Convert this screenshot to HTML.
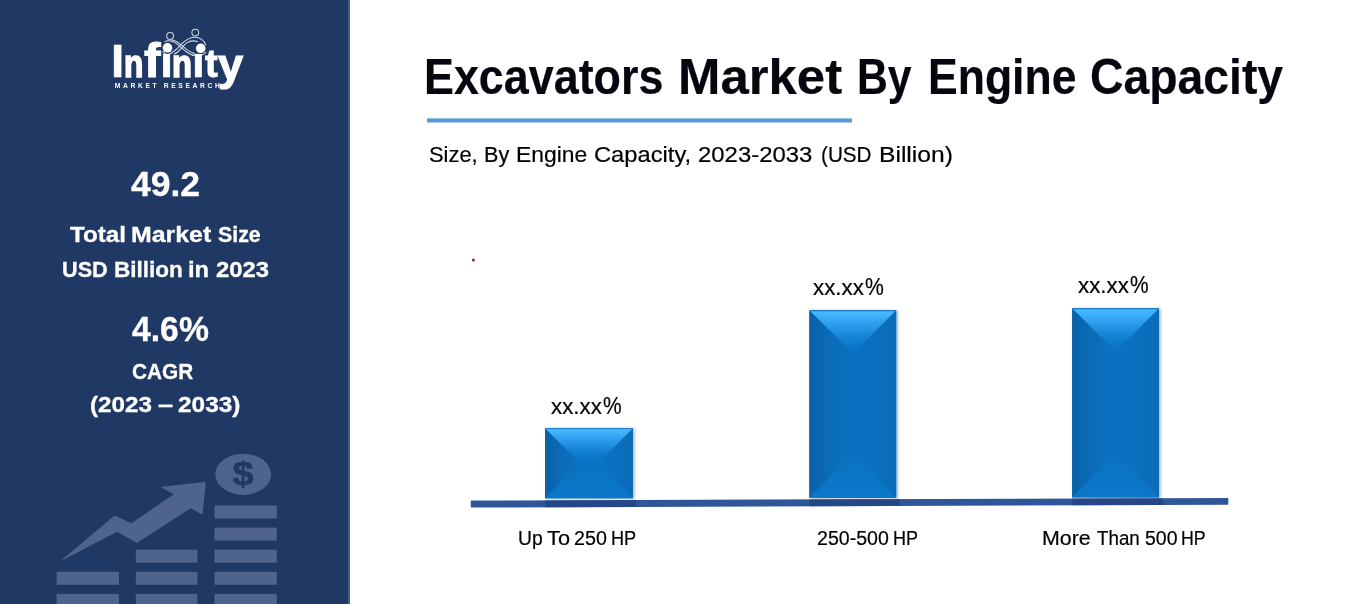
<!DOCTYPE html>
<html lang="en"><head><meta charset="utf-8"><title>Excavators Market By Engine Capacity</title>
<style>
html,body{margin:0;padding:0}
body{width:1362px;height:604px;position:relative;overflow:hidden;background:#fff;font-family:'Liberation Sans', sans-serif}
#side{position:absolute;left:0;top:0;width:348px;height:604px;background:#1f3864}
#edge{position:absolute;left:348px;top:0;width:2px;height:604px;background:#4a6080}
svg{position:absolute;left:0;top:0;overflow:visible}
.g{margin:0;padding:0;position:static;font-weight:normal;font-size:0}
.b .w{font-weight:bold}
.wh .w{color:#fff;-webkit-text-stroke:.3px #fff}
h1 .w{color:#06060e}
.logo{font-size:0;margin:0}
.logo span{position:absolute;font:bold 46.4px/1 'Liberation Sans', sans-serif;color:#fff;white-space:pre;transform-origin:0 0;display:block}
.w{position:absolute;line-height:1;white-space:pre;transform-origin:0 0;color:#000;display:block;-webkit-text-stroke:.2px currentColor}
</style></head><body>
<aside id="side">
<svg width="348" height="604" viewBox="0 0 348 604">
 <g fill="#fff" font-family="'Liberation Sans', sans-serif" font-weight="bold">
  <text x="114.7" y="87.9" font-size="6.7" textLength="105.2" lengthAdjust="spacing">MARKET RESEARCH</text>
  <circle cx="167.5" cy="47.8" r="4.8"/><circle cx="200.7" cy="48.3" r="4.8"/>
 </g>
 <g fill="none" stroke="#fff" stroke-width="1.05" stroke-linecap="round" opacity=".8">
  <path d="M205.7 44.9C204.5 40.5 199.5 37 194.7 37.3C189 37.6 184.5 41 181.5 44.2C177.5 48.8 174 52.7 168.2 54.5C166 55 164 53.5 162.9 51.5"/>
  <path d="M197.4 41.6C193 40.2 189.5 41 186.8 42.9C183.5 45.5 181 49 178.2 51.5C176.5 53 175 53.8 174.2 54.1"/>
  <path d="M164.9 41.6C167 40.2 171.5 40.3 175.5 42.9C179.5 45.5 183 49.5 186.8 52.2C190.5 54.8 194 55.9 197.4 55.8C201 55.7 204.3 54.2 206 52.2"/>
  <path d="M171.6 39.9C175 40.2 179.5 43 183.5 46.9C187 50 191 52.8 194.7 53.5"/>
  <circle cx="170.1" cy="35.9" r="3.4"/><circle cx="195.3" cy="32.6" r="3.4"/>
 </g>
 <g fill="#4e648c">
  <rect x="56.6" y="571.8" width="62.3" height="13"/><rect x="56.6" y="593.9" width="62.3" height="13"/><rect x="135.8" y="549.7" width="61.6" height="13"/><rect x="135.8" y="571.8" width="61.6" height="13"/><rect x="135.8" y="593.9" width="61.6" height="13"/><rect x="214.5" y="505.5" width="62.3" height="13"/><rect x="214.5" y="527.6" width="62.3" height="13"/><rect x="214.5" y="549.7" width="62.3" height="13"/><rect x="214.5" y="571.8" width="62.3" height="13"/><rect x="214.5" y="593.9" width="62.3" height="13"/>
  <ellipse cx="243.2" cy="474.3" rx="27.9" ry="20.6"/>
  <polygon points="60,561.6 114.5,515.5 131.6,523.2 173.7,494.2 160.5,487.1 205.8,481.8 202.6,514.7 190.8,508.2 136.8,542.9 117.1,531.8"/>
 </g>
 <g transform="translate(242.95 485.1) scale(1.15 1)"><text x="0" y="0" text-anchor="middle" font-family="'Liberation Sans', sans-serif" font-weight="bold" font-size="32.9" fill="#1f3864" stroke="#1f3864" stroke-width="0.6">$</text></g>
</svg>
<div class="logo"><span style="left:111.39px;top:39.15px;transform:scale(1.0261,0.9785);-webkit-text-stroke:0.6px #fff">I</span><span style="left:123.93px;top:44.64px;transform:scale(0.6815,0.8241);-webkit-text-stroke:2.0px #fff">n</span><span style="left:143.81px;top:36.71px;transform:scale(1.0747,1.0365);-webkit-text-stroke:0.9px #fff">f</span><span style="left:160.20px;top:42.18px;transform:scale(1.0172,0.9013);-webkit-text-stroke:0.6px #fff;clip-path:inset(13px -5px -5px -5px)">i</span><span style="left:171.88px;top:44.64px;transform:scale(0.7060,0.8241);-webkit-text-stroke:2.0px #fff">n</span><span style="left:192.39px;top:42.18px;transform:scale(0.9885,0.9013);-webkit-text-stroke:0.6px #fff;clip-path:inset(13px -5px -5px -5px)">i</span><span style="left:205.42px;top:43.81px;transform:scale(0.8210,0.8485);-webkit-text-stroke:1.2px #fff">t</span><span style="left:217.55px;top:42.91px;transform:scale(0.9745,0.9404);-webkit-text-stroke:1.2px #fff">y</span></div>
<div class="g b wh"><span class="w" style="left:130.52px;top:166.90px;font-size:34.6px;transform:scaleX(1.0269)">49.2</span></div>
<p class="g b wh"><span class="w" style="left:69.96px;top:223.70px;font-size:22.5px;transform:scaleX(1.0758)">Total</span> <span class="w" style="left:131.32px;top:223.70px;font-size:22.5px;transform:scaleX(1.1060)">Market</span> <span class="w" style="left:218.36px;top:223.70px;font-size:22.5px;transform:scaleX(0.9497)">Size</span> <span class="w" style="left:61.80px;top:258.70px;font-size:22.5px;transform:scaleX(0.9619)">USD</span> <span class="w" style="left:113.68px;top:258.70px;font-size:22.5px;transform:scaleX(1.0005)">Billion</span> <span class="w" style="left:188.14px;top:258.70px;font-size:22.5px;transform:scaleX(1.0561)">in</span> <span class="w" style="left:215.67px;top:258.70px;font-size:22.5px;transform:scaleX(1.0592)">2023</span></p>
<div class="g b wh"><span class="w" style="left:132.29px;top:311.90px;font-size:34.6px;transform:scaleX(0.9752)">4.6%</span></div>
<p class="g b wh"><span class="w" style="left:132.07px;top:360.80px;font-size:22.5px;transform:scaleX(0.9236)">CAGR</span> <span class="w" style="left:90.29px;top:393.60px;font-size:22.5px;transform:scaleX(1.0767)">(2023</span> <span class="w" style="left:157.58px;top:393.60px;font-size:22.5px;transform:scaleX(1.2121)">–</span> <span class="w" style="left:177.55px;top:393.60px;font-size:22.5px;transform:scaleX(1.0839)">2033)</span></p>
</aside>
<div id="edge"></div>
<main>
<svg width="1362" height="604" viewBox="0 0 1362 604">
 <defs><filter id="sh" x="-20%" y="-20%" width="150%" height="140%"><feDropShadow dx="1.5" dy="0.5" stdDeviation="1.8" flood-color="#000" flood-opacity=".32"/></filter></defs>
 <rect x="427" y="118.4" width="425" height="4.1" fill="#5b9bd5"/>
 <circle cx="473.4" cy="259.9" r="1.5" fill="#a3152c"/>
 <g filter="url(#sh)"><rect x="545.1" y="428.2" width="87.79999999999995" height="70.10000000000002" fill="#0a72c2"/></g>
<g>
<linearGradient id="gt1" gradientUnits="userSpaceOnUse" x1="0" y1="428.2" x2="0" y2="463.25"><stop offset="0" stop-color="#0c6cb6"/><stop offset=".04" stop-color="#46bbff"/><stop offset=".3" stop-color="#2f9fee"/><stop offset=".6" stop-color="#1685d6"/><stop offset=".85" stop-color="#0b76c7"/><stop offset="1" stop-color="#0a72c2"/></linearGradient>
<linearGradient id="gb1" gradientUnits="userSpaceOnUse" x1="0" y1="498.3" x2="0" y2="463.25"><stop offset="0" stop-color="#0c78c9"/><stop offset="1" stop-color="#0a72c2"/></linearGradient>
<linearGradient id="gl1" gradientUnits="userSpaceOnUse" x1="545.1" y1="0" x2="580.1500000000001" y2="0"><stop offset="0" stop-color="#0a61a6"/><stop offset=".5" stop-color="#0a6dba"/><stop offset="1" stop-color="#0a72c2"/></linearGradient>
<linearGradient id="gr1" gradientUnits="userSpaceOnUse" x1="632.9" y1="0" x2="597.8499999999999" y2="0"><stop offset="0" stop-color="#0a6cb8"/><stop offset=".5" stop-color="#0a70bf"/><stop offset="1" stop-color="#0a72c2"/></linearGradient>
<polygon points="545.1,428.2 580.1500000000001,463.25 580.1500000000001,463.25 545.1,498.3" fill="url(#gl1)"/><polygon points="632.9,428.2 597.8499999999999,463.25 597.8499999999999,463.25 632.9,498.3" fill="url(#gr1)"/><polygon points="545.1,498.3 632.9,498.3 597.8499999999999,463.25 580.1500000000001,463.25" fill="url(#gb1)"/><polygon points="545.1,428.2 632.9,428.2 597.8499999999999,463.25 580.1500000000001,463.25" fill="url(#gt1)"/>
</g>
 <g filter="url(#sh)"><rect x="809.4" y="310.2" width="86.80000000000007" height="187.8" fill="#0a72c2"/></g>
<g>
<linearGradient id="gt2" gradientUnits="userSpaceOnUse" x1="0" y1="310.2" x2="0" y2="353.6"><stop offset="0" stop-color="#0c6cb6"/><stop offset=".04" stop-color="#46bbff"/><stop offset=".3" stop-color="#2f9fee"/><stop offset=".6" stop-color="#1685d6"/><stop offset=".85" stop-color="#0b76c7"/><stop offset="1" stop-color="#0a72c2"/></linearGradient>
<linearGradient id="gb2" gradientUnits="userSpaceOnUse" x1="0" y1="498.0" x2="0" y2="454.59999999999997"><stop offset="0" stop-color="#0c78c9"/><stop offset="1" stop-color="#0a72c2"/></linearGradient>
<linearGradient id="gl2" gradientUnits="userSpaceOnUse" x1="809.4" y1="0" x2="852.8" y2="0"><stop offset="0" stop-color="#0a61a6"/><stop offset=".5" stop-color="#0a6dba"/><stop offset="1" stop-color="#0a72c2"/></linearGradient>
<linearGradient id="gr2" gradientUnits="userSpaceOnUse" x1="896.2" y1="0" x2="852.8" y2="0"><stop offset="0" stop-color="#0a6cb8"/><stop offset=".5" stop-color="#0a70bf"/><stop offset="1" stop-color="#0a72c2"/></linearGradient>
<polygon points="809.4,310.2 852.8,353.6 852.8,454.59999999999997 809.4,498.0" fill="url(#gl2)"/><polygon points="896.2,310.2 852.8,353.6 852.8,454.59999999999997 896.2,498.0" fill="url(#gr2)"/><polygon points="809.4,498.0 896.2,498.0 852.8,454.59999999999997 852.8,454.59999999999997" fill="url(#gb2)"/><polygon points="809.4,310.2 896.2,310.2 852.8,353.6 852.8,353.6" fill="url(#gt2)"/>
</g>
 <g filter="url(#sh)"><rect x="1072.2" y="308.2" width="86.79999999999995" height="189.2" fill="#0a72c2"/></g>
<g>
<linearGradient id="gt3" gradientUnits="userSpaceOnUse" x1="0" y1="308.2" x2="0" y2="351.59999999999997"><stop offset="0" stop-color="#0c6cb6"/><stop offset=".04" stop-color="#46bbff"/><stop offset=".3" stop-color="#2f9fee"/><stop offset=".6" stop-color="#1685d6"/><stop offset=".85" stop-color="#0b76c7"/><stop offset="1" stop-color="#0a72c2"/></linearGradient>
<linearGradient id="gb3" gradientUnits="userSpaceOnUse" x1="0" y1="497.4" x2="0" y2="454.0"><stop offset="0" stop-color="#0c78c9"/><stop offset="1" stop-color="#0a72c2"/></linearGradient>
<linearGradient id="gl3" gradientUnits="userSpaceOnUse" x1="1072.2" y1="0" x2="1115.6" y2="0"><stop offset="0" stop-color="#0a61a6"/><stop offset=".5" stop-color="#0a6dba"/><stop offset="1" stop-color="#0a72c2"/></linearGradient>
<linearGradient id="gr3" gradientUnits="userSpaceOnUse" x1="1159.0" y1="0" x2="1115.6" y2="0"><stop offset="0" stop-color="#0a6cb8"/><stop offset=".5" stop-color="#0a70bf"/><stop offset="1" stop-color="#0a72c2"/></linearGradient>
<polygon points="1072.2,308.2 1115.6,351.59999999999997 1115.6,454.0 1072.2,497.4" fill="url(#gl3)"/><polygon points="1159.0,308.2 1115.6,351.59999999999997 1115.6,454.0 1159.0,497.4" fill="url(#gr3)"/><polygon points="1072.2,497.4 1159.0,497.4 1115.6,454.0 1115.6,454.0" fill="url(#gb3)"/><polygon points="1072.2,308.2 1159.0,308.2 1115.6,351.59999999999997 1115.6,351.59999999999997" fill="url(#gt3)"/>
</g>
 <clipPath id="ax"><polygon points="470.8,500.6 1228.3,498 1228.3,504.7 470.8,507.6"/></clipPath>
 <polygon points="470.8,500.6 1228.3,498 1228.3,504.7 470.8,507.6" fill="#30569a"/>
 <g clip-path="url(#ax)" fill="#1d3c78" opacity=".55"><rect x="545" y="495" width="91" height="15"/><rect x="809" y="495" width="91" height="15"/><rect x="1072" y="495" width="91" height="15"/></g>
</svg>
<h1 class="g b"><span class="w" style="left:424.47px;top:52.75px;font-size:49.85px;transform:scaleX(0.8999)">Excavators</span> <span class="w" style="left:677.56px;top:52.75px;font-size:49.85px;transform:scaleX(1.0214)">Market</span> <span class="w" style="left:856.62px;top:52.75px;font-size:49.85px;transform:scaleX(0.8573)">By</span> <span class="w" style="left:927.99px;top:52.75px;font-size:49.85px;transform:scaleX(0.8936)">Engine</span> <span class="w" style="left:1090.15px;top:52.75px;font-size:49.85px;transform:scaleX(0.9294)">Capacity</span></h1>
<p class="g "><span class="w" style="left:429.31px;top:143.90px;font-size:21.8px;transform:scaleX(1.0042)">Size,</span> <span class="w" style="left:483.62px;top:143.90px;font-size:21.8px;transform:scaleX(0.9916)">By</span> <span class="w" style="left:515.81px;top:143.90px;font-size:21.8px;transform:scaleX(1.0487)">Engine</span> <span class="w" style="left:594.01px;top:143.90px;font-size:21.8px;transform:scaleX(1.0879)">Capacity,</span> <span class="w" style="left:698.30px;top:143.90px;font-size:21.8px;transform:scaleX(1.0970)">2023-2033</span> <span class="w" style="left:820.61px;top:143.90px;font-size:21.8px;transform:scaleX(0.9489)">(USD</span> <span class="w" style="left:879.47px;top:143.90px;font-size:21.8px;transform:scaleX(1.1295)">Billion)</span></p>
<div class="g "><span class="w" style="left:550.72px;top:395.60px;font-size:22.3px;transform:scaleX(1.0014)">xx.xx</span><span class="w" style="left:602.77px;top:393.60px;font-size:23.8px;transform:scaleX(0.8789)">%</span></div>
<div class="g "><span class="w" style="left:813.02px;top:276.80px;font-size:22.3px;transform:scaleX(1.0014)">xx.xx</span><span class="w" style="left:865.06px;top:274.80px;font-size:23.8px;transform:scaleX(0.8892)">%</span></div>
<div class="g "><span class="w" style="left:1078.02px;top:274.60px;font-size:22.3px;transform:scaleX(1.0014)">xx.xx</span><span class="w" style="left:1130.27px;top:272.60px;font-size:23.8px;transform:scaleX(0.8789)">%</span></div>
<div class="g "><span class="w" style="left:517.50px;top:529.30px;font-size:19.9px;transform:scaleX(0.9704)">Up</span> <span class="w" style="left:547.31px;top:529.30px;font-size:19.9px;transform:scaleX(1.0936)">To</span> <span class="w" style="left:574.02px;top:529.30px;font-size:19.9px;transform:scaleX(0.9891)">250</span> <span class="w" style="left:611.30px;top:529.30px;font-size:19.9px;transform:scaleX(0.9129)">HP</span></div>
<div class="g "><span class="w" style="left:816.72px;top:529.30px;font-size:19.9px;transform:scaleX(0.9847)">250-500</span> <span class="w" style="left:893.11px;top:529.30px;font-size:19.9px;transform:scaleX(0.9049)">HP</span></div>
<div class="g "><span class="w" style="left:1042.43px;top:529.30px;font-size:19.9px;transform:scaleX(1.0762)">More</span> <span class="w" style="left:1096.58px;top:529.30px;font-size:19.9px;transform:scaleX(0.9431)">Than</span> <span class="w" style="left:1144.72px;top:529.30px;font-size:19.9px;transform:scaleX(0.9797)">500</span> <span class="w" style="left:1181.33px;top:529.30px;font-size:19.9px;transform:scaleX(0.8929)">HP</span></div>
</main>
</body></html>
